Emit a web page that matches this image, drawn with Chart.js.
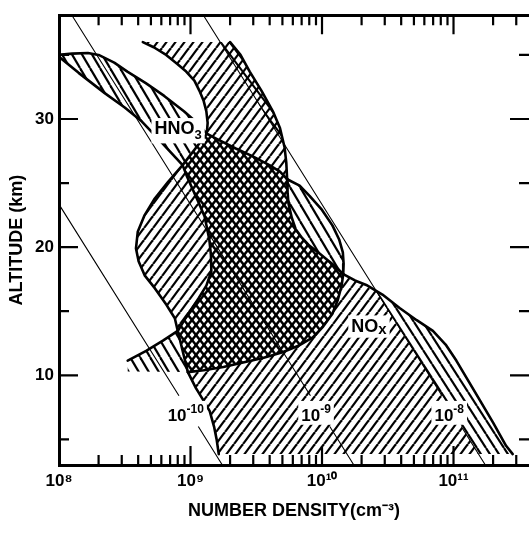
<!DOCTYPE html>
<html>
<head>
<meta charset="utf-8">
<title>HNO3 and NOx number density</title>
<script src="https://cdn.jsdelivr.net/npm/chart.js@4.4.1/dist/chart.umd.min.js"></script>
<style>
html,body{margin:0;padding:0;background:#fff;overflow:hidden;}
canvas{display:block;}
</style>
</head>
<body>
<canvas id="c" width="529" height="534"></canvas>
<script>
// ---------------- DATA (number density cm^-3, altitude km) ----------------
const hno3Top = [[1.00e8,35.0],[1.26e8,35.1],[1.66e8,35.15],[2.00e8,35.0],[2.63e8,34.4],[3.31e8,33.7],[4.57e8,32.8],[6.31e8,31.8],[8.91e8,30.6],[1.12e9,29.7],[1.33e9,28.85]];
const hno3Bottom = [[1.00e8,34.85],[1.41e8,33.6],[2.24e8,32.0],[3.16e8,30.9],[4.27e8,29.8],[5.62e8,28.5],[7.08e8,27.4],[8.71e8,26.4]];
const noseEdge = [[1.33e9,28.85],[8.71e8,26.4]];
const noxLeftUpper = [[4.34e8,36.0],[5.25e8,35.6],[6.53e8,35.0],[7.94e8,34.3],[9.27e8,33.7],[1.07e9,33.0],[1.17e9,32.2],[1.26e9,31.4],[1.32e9,30.6],[1.35e9,29.7],[1.33e9,28.85]];
const noxRightUpper = [[2.00e9,36.0],[2.40e9,35.0],[2.82e9,33.7],[3.47e9,32.2],[4.23e9,30.6],[4.79e9,29.3],[5.19e9,27.8],[5.35e9,26.6],[5.43e9,25.3]];
const hno3Ridge = [[1.33e9,28.85],[1.58e9,28.45],[2.21e9,27.7],[2.95e9,27.1],[3.98e9,26.4],[4.79e9,25.9],[5.43e9,25.3]];
const hno3RightOuter = [[5.43e9,25.3],[6.76e9,24.8],[8.04e9,24.0],[1.00e10,22.9],[1.20e10,21.7],[1.35e10,20.6],[1.44e10,19.6],[1.46e10,18.7],[1.45e10,17.9]];
const noxRightMid = [[5.43e9,25.3],[5.47e9,24.3],[5.56e9,23.4],[5.89e9,22.3],[6.31e9,21.4],[7.08e9,20.7],[8.04e9,20.1],[9.33e9,19.6],[1.07e10,19.1],[1.26e10,18.5],[1.45e10,17.9]];
const hno3LowerEdge = [[1.45e10,17.9],[1.41e10,17.0],[1.32e10,15.9],[1.20e10,14.8],[1.02e10,13.8],[8.51e9,12.95],[6.61e9,12.3],[5.01e9,11.8],[3.55e9,11.35],[2.51e9,11.0],[1.78e9,10.65],[1.26e9,10.4],[9.55e8,10.25]];
const crossLeftEdge = [[9.55e8,10.25],[8.00e8,13.46]];
const hno3LeftMid = [[8.00e8,13.46],[9.33e8,14.6],[1.15e9,16.0],[1.32e9,17.0],[1.44e9,18.1],[1.43e9,19.4],[1.39e9,20.6],[1.28e9,22.4],[1.15e9,23.5],[1.04e9,24.5],[9.33e8,25.6],[8.71e8,26.4]];
const noxLeftMid = [[8.71e8,26.4],[6.76e8,25.1],[5.35e8,23.8],[4.48e8,22.5],[3.97e8,21.2],[3.85e8,19.9],[4.03e8,18.9],[4.48e8,17.8],[5.35e8,16.8],[6.56e8,15.5],[7.60e8,14.45],[8.00e8,13.46]];
const noxLeftLower = [[9.55e8,10.25],[1.10e9,9.0],[1.26e9,8.0],[1.40e9,7.2],[1.51e9,6.0],[1.58e9,5.0],[1.64e9,3.85]];
const noxRightLower = [[1.45e10,17.9],[1.78e10,17.4],[2.17e10,17.05],[2.88e10,16.3],[3.89e10,15.25],[5.25e10,14.3],[6.97e10,13.46],[8.71e10,12.4],[1.05e11,11.15],[1.29e11,9.6],[1.58e11,8.08],[2.00e11,6.3],[2.51e11,4.5],[2.82e11,3.85]];
const hno3LowerLimit = [[8.00e8,13.46],[6.17e8,12.7],[4.60e8,11.9],[3.33e8,11.15]];
const hno3LimitFoot = [[3.33e8,10.3],[9.55e8,10.25]];
// parts of the NOx band beyond the 1e-8 mixing-ratio line
const noxUpperHighMix = [[1.687e9,36.0],[2.00e9,36.0],[2.40e9,35.0],[2.82e9,33.7],[3.47e9,32.2],[4.23e9,30.6],[4.79e9,29.3],[5.19e9,27.9]];
const noxLowerHighMix = [[2.51e10,16.7],[2.88e10,16.3],[3.89e10,15.25],[5.25e10,14.3],[6.97e10,13.46],[8.71e10,12.4],[1.05e11,11.15],[1.29e11,9.6],[1.58e11,8.08],[2.00e11,6.3],[2.51e11,4.5],[2.82e11,3.85],[1.55e11,3.85]];

// constant mixing-ratio lines (null altitude = break for the label)
const mixRatio1e10 = [[1.00e8,23.34],[8.17e8,8.4],[9.0e8,null],[1.146e9,6.0],[1.746e9,3.0]];
const mixRatio1e9  = [[1.27e8,38.0],[8.17e9,8.4],[9.0e9,null],[1.146e10,6.0],[1.746e10,3.0]];
const mixRatio1e8  = [[1.27e9,38.0],[8.17e10,8.4],[9.0e10,null],[1.146e11,6.0],[1.746e11,3.0]];

// axes
const xTickValues = [1e8, 1e9, 1e10, 1e11];
const xTickLabels = ['10\u2078', '10\u2079', '10\u00B9\u2070', '10\u00B9\u00B9'];
const yTickValues = [10, 20, 30];
const xMajorMarks = [1e9, 1e10, 1e11];
const xMinorMarks = [2e8,3e8,4e8,5e8,6e8,7e8,8e8,9e8,2e9,3e9,4e9,5e9,6e9,7e9,8e9,9e9,2e10,3e10,4e10,5e10,6e10,7e10,8e10,9e10,2e11,3e11];
const yMajorMarks = [10, 20, 30];
const yMinorMarks = [5, 15, 25, 35];
const X_MIN = 1e8, X_MAX = 3.75e11, Y_MIN = 3, Y_MAX = 38.1;

// text annotations
const noteTexts = [
  [['HNO', 0], ['3', 1]],
  [['NO', 0], ['x', 2]],
  [['10', 0], ['-10', -1]],
  [['10', 0], ['-9', -1]],
  [['10', 0], ['-8', -1]]
];
const notePlaces = [[5.32e8, 28.8], [1.67e10, 13.4], [6.7e8, 6.45], [6.95e9, 6.45], [7.16e10, 6.45]];

// ---------------- STYLE ----------------
const FONT = "'Liberation Sans', Arial, Helvetica, sans-serif";
Chart.defaults.color = '#000';
Chart.defaults.font.family = FONT;

function makeHatch(w, h, dirs, lw, bg) {
  const c = document.createElement('canvas');
  c.width = w; c.height = h;
  const g = c.getContext('2d');
  if (bg) { g.fillStyle = bg; g.fillRect(0, 0, w, h); }
  g.strokeStyle = '#000';
  g.lineWidth = lw;
  for (const d of dirs) {
    for (const k of [-1, 0, 1]) {
      g.beginPath();
      if (d === '/') { g.moveTo(k * w, h); g.lineTo(k * w + w, 0); }
      else { g.moveTo(k * w, 0); g.lineTo(k * w + w, h); }
      g.stroke();
    }
  }
  return g.createPattern(c, 'repeat');
}
const patNOx = makeHatch(9, 12, ['/'], 2.2);
const patHNO3 = makeHatch(10, 17, ['\\'], 2.2);
const patCross = makeHatch(8, 10, ['/', '\\'], 2.5);
const patHigh = makeHatch(9, 14, ['\\'], 2.2, '#fff');
const patHighOver = makeHatch(9, 12, ['\\'], 2.0);

const pts = (...parts) => parts.flat().map(([x, y]) => ({x, y}));
const rev = a => [...a].reverse();

const area = (data, pat, order = 3) => ({data, showLine: true, fill: 'shape', backgroundColor: pat,
  borderWidth: 0, pointRadius: 0, tension: 0, order});
const edge = (data, w) => ({data, showLine: true, fill: false, borderColor: '#000',
  borderWidth: w, pointRadius: 0, tension: 0, borderJoinStyle: 'round', borderCapStyle: 'round', order: 1});
const thin = data => ({data, showLine: true, fill: false, borderColor: '#000',
  borderWidth: 1.1, pointRadius: 0, tension: 0, spanGaps: false, order: 2});

const EW = 2.6;
const datasets = [
  // outlines
  edge(pts(hno3Top), EW), edge(pts(hno3Bottom), EW), edge(pts(noseEdge), EW),
  edge(pts(noxLeftUpper), EW), edge(pts(noxRightUpper), EW), edge(pts(hno3Ridge), EW),
  edge(pts(hno3RightOuter), EW), edge(pts(noxRightMid), EW), edge(pts(hno3LowerEdge), EW),
  edge(pts(crossLeftEdge), EW), edge(pts(hno3LeftMid), EW), edge(pts(noxLeftMid), EW),
  edge(pts(noxLeftLower), EW), edge(pts(noxRightLower), EW), edge(pts(hno3LowerLimit), EW),
  // mixing ratio lines
  thin(pts(mixRatio1e10)), thin(pts(mixRatio1e9)), thin(pts(mixRatio1e8)),
  // hatched regions
  area(pts(noxUpperHighMix), patHighOver, 2.5),
  area(pts(noxLowerHighMix), patHigh, 2.5),
  area(pts(hno3Top, noseEdge, rev(hno3Bottom)), patHNO3),
  area(pts(noxLeftUpper, hno3Ridge, rev(noxRightUpper)), patNOx),
  area(pts(hno3RightOuter, rev(noxRightMid)), patHNO3),
  area(pts(noxLeftMid, hno3LeftMid), patNOx),
  area(pts(hno3Ridge, noxRightMid, hno3LowerEdge, crossLeftEdge, hno3LeftMid, rev(noseEdge)), patCross),
  area(pts(noxLeftLower, rev(noxRightLower), hno3LowerEdge), patNOx),
  area(pts(hno3LowerLimit, hno3LimitFoot, crossLeftEdge), patHNO3)
];

// inward tick marks drawn from the chart's own scales
const inwardTicks = {
  id: 'inwardTicks',
  afterDatasetsDraw(chart) {
    const {ctx, chartArea: a, scales: {x, y}} = chart;
    const MAJ = 19, MIN = 10;
    ctx.save();
    ctx.strokeStyle = '#000';
    ctx.lineWidth = 2.2;
    ctx.beginPath();
    const xm = (vals, len) => vals.forEach(v => {
      const p = x.getPixelForValue(v);
      ctx.moveTo(p, a.bottom); ctx.lineTo(p, a.bottom - len);
      ctx.moveTo(p, a.top); ctx.lineTo(p, a.top + len);
    });
    const ym = (vals, len) => vals.forEach(v => {
      const p = y.getPixelForValue(v);
      ctx.moveTo(a.left, p); ctx.lineTo(a.left + len, p);
      ctx.moveTo(a.right, p); ctx.lineTo(a.right - len, p);
    });
    xm(xMajorMarks, MAJ); xm(xMinorMarks, MIN);
    ym(yMajorMarks, MAJ); ym(yMinorMarks, MIN);
    ctx.stroke();
    ctx.restore();
  }
};

// text annotations placed with the chart's scales
const SIZES = {0: 18, 1: 13, 2: 15, '-1': 12};
const DY = {0: 0, 1: 5, 2: 2, '-1': -8};
const notesPlugin = {
  id: 'notes',
  afterDatasetsDraw(chart) {
    const {ctx, scales: {x, y}} = chart;
    ctx.save();
    ctx.textBaseline = 'alphabetic';
    noteTexts.forEach((parts, i) => {
      const [vx, vy] = notePlaces[i];
      const px = x.getPixelForValue(vx), py = y.getPixelForValue(vy);
      const big = parts[0][1] === 0 && parts[1][1] === -1 ? 17 : 18;
      let w = 0, top = 0, bot = 0;
      const items = parts.map(([t, k]) => {
        const size = k === 0 ? big : SIZES[k];
        ctx.font = `bold ${size}px ${FONT}`;
        const tw = ctx.measureText(t).width;
        const it = {t, size, dx: w, dy: DY[k]};
        w += tw;
        top = Math.min(top, DY[k] - size * 0.74);
        bot = Math.max(bot, DY[k] + 1);
        return it;
      });
      ctx.fillStyle = '#fff';
      ctx.fillRect(px - 3, py + top - 3, w + 6, bot - top + 6);
      ctx.fillStyle = '#000';
      items.forEach(it => {
        ctx.font = `bold ${it.size}px ${FONT}`;
        ctx.fillText(it.t, px + it.dx, py + it.dy);
      });
    });
    ctx.restore();
  }
};

new Chart(document.getElementById('c'), {
  type: 'scatter',
  data: {datasets},
  options: {
    responsive: false,
    animation: false,
    events: [],
    layout: {padding: 0, autoPadding: false},
    plugins: {legend: {display: false}, tooltip: {enabled: false}},
    scales: {
      x: {
        type: 'logarithmic', position: 'bottom', min: X_MIN, max: X_MAX,
        afterBuildTicks: s => { s.ticks = xTickValues.map(v => ({value: v})); },
        afterFit: s => { s.height = 69; },
        ticks: {
          callback: (v, i) => xTickLabels[i],
          font: {size: 17, weight: 'bold'}, color: '#000',
          padding: 6, maxRotation: 0, minRotation: 0, autoSkip: false
        },
        grid: {display: false, drawTicks: false},
        border: {display: true, color: '#000', width: 3},
        title: {display: true, text: 'NUMBER DENSITY(cm\u207B\u00B3)', color: '#000',
          font: {size: 18, weight: 'bold'}, padding: {top: 0, bottom: 12}}
      },
      xTop: {
        type: 'logarithmic', position: 'top', min: X_MIN, max: X_MAX,
        afterFit: s => { s.height = 10; },
        ticks: {display: false},
        grid: {display: false, drawTicks: false},
        border: {display: true, color: '#000', width: 3}
      },
      y: {
        type: 'linear', position: 'left', min: Y_MIN, max: Y_MAX,
        afterBuildTicks: s => { s.ticks = yTickValues.map(v => ({value: v})); },
        afterFit: s => { s.width = 59; },
        ticks: {font: {size: 17, weight: 'bold'}, color: '#000', padding: 5},
        grid: {display: false, drawTicks: false},
        border: {display: true, color: '#000', width: 3},
        title: {display: true, text: 'ALTITUDE (km)', color: '#000',
          font: {size: 18, weight: 'bold'}, padding: {top: 6, bottom: 0}}
      }
    }
  },
  plugins: [inwardTicks, notesPlugin]
});
</script>
</body>
</html>
